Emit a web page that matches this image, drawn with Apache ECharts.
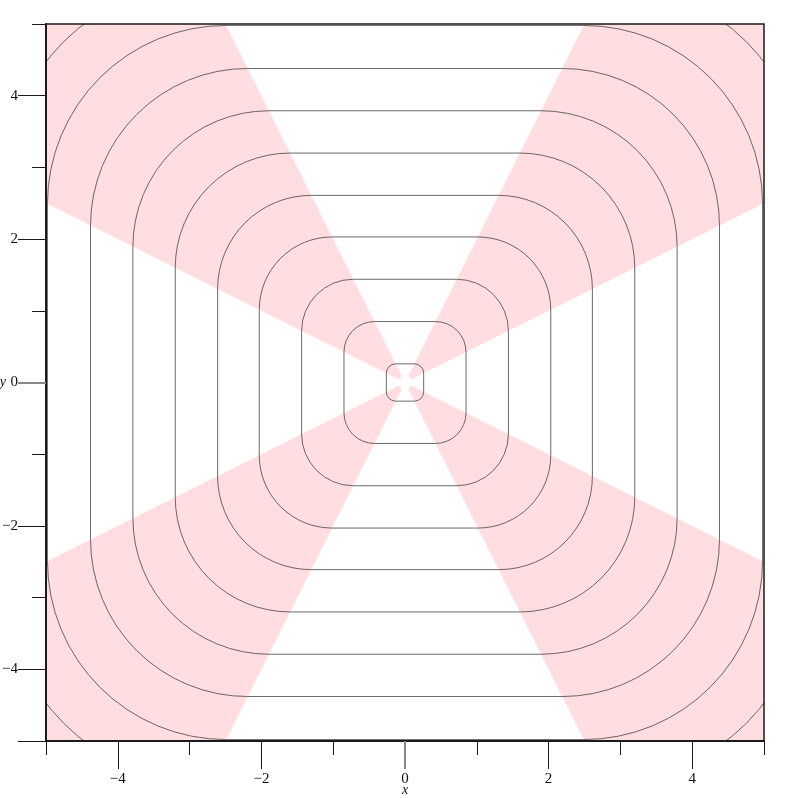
<!DOCTYPE html>
<html>
<head>
    <meta http-equiv="content-type" content="text/html;charset=utf-8">
    <script src="https://cdn.jsdelivr.net/npm/echarts@6/dist/echarts.min.js"></script>
    <style>
        html, body { margin: 0; padding: 0; background: #fff; }
        #chart { width: 791px; height: 798px; }
    </style>
</head>
<body>
<div id="chart"></div>

<script type="text/javascript">
    // contour levels (half-width of each rounded square)
    var contourLevels = [0.26, 0.85, 1.44, 2.03, 2.61, 3.20, 3.79, 4.38, 4.98, 5.57];

    // pink wedges, one polygon per quadrant
    var wedgeTopLeft = [[-0.09, 0.045], [-5, 2.5], [-5, 5], [-2.5, 5], [-0.045, 0.09]];
    var wedgeTopRight = [[0.09, 0.045], [5, 2.5], [5, 5], [2.5, 5], [0.045, 0.09]];
    var wedgeBottomLeft = [[-0.09, -0.045], [-5, -2.5], [-5, -5], [-2.5, -5], [-0.045, -0.09]];
    var wedgeBottomRight = [[0.09, -0.045], [5, -2.5], [5, -5], [2.5, -5], [0.045, -0.09]];

    // ticks and labels
    var minorTicks = [-5, -3, -1, 1, 3, 5];
    var majorTicks = [-4, -2, 2, 4];
    var yMajorTicks = [-5, -4, -2, 2, 4];
    var zeroTick = [0];
    var tickLabels = [-4, -2, 0, 2, 4];

    var font = "'Liberation Serif', 'DejaVu Serif', serif";
    var fmt = function (v) { return v < 0 ? '\u2212' + (-v) : String(v); };

    function axisSet(dir) {
        var isX = dir === 'x';
        var pos = isX ? 'bottom' : 'left';
        var base = { type: 'value', min: -5, max: 5, position: pos, z: 10, splitLine: { show: false } };
        var a = Object.assign({}, base, {
            axisLine: { show: true, onZero: false, lineStyle: { color: '#1a1a1a', width: 2 } },
            axisTick: { show: true, customValues: minorTicks, length: 14, lineStyle: { color: '#1a1a1a', width: 1 } },
            axisLabel: { show: false },
            name: dir,
            nameLocation: 'middle',
            nameGap: isX ? 42 : 40,
            nameRotate: 0,
            nameTextStyle: { fontFamily: font, fontStyle: 'italic', fontSize: 14, color: '#111' }
        });
        var b = Object.assign({}, base, {
            axisLine: { show: false, onZero: false },
            axisTick: { show: true, customValues: isX ? majorTicks : yMajorTicks, length: 28, lineStyle: { color: '#1a1a1a', width: 1 } },
            axisLabel: { show: true, customValues: tickLabels, formatter: fmt, margin: isX ? 31 : 28,
                fontFamily: font, fontSize: 15, color: '#111' }
        });
        var c = Object.assign({}, base, {
            axisLine: { show: false, onZero: false },
            axisTick: { show: true, customValues: zeroTick, length: 28, lineStyle: { color: '#888', width: 2 } },
            axisLabel: { show: false }
        });
        return [a, b, c];
    }

    var chart = echarts.init(document.getElementById('chart'));

    var wedges = [wedgeTopLeft, wedgeTopRight, wedgeBottomLeft, wedgeBottomRight];

    var option = {
        animation: false,
        backgroundColor: '#fff',
        grid: { left: 46, right: 27, top: 24, bottom: 57, show: true, borderColor: '#1a1a1a', borderWidth: 1.5, z: 10,
            outerBoundsMode: 'none', containLabel: false },
        xAxis: axisSet('x'),
        yAxis: axisSet('y'),
        series: [
            {
                type: 'custom',
                coordinateSystem: 'cartesian2d',
                clip: true,
                silent: true,
                z: 1,
                data: wedges.map(function (w, i) { return [i, 0]; }),
                renderItem: function (params, api) {
                    var w = wedges[api.value(0)];
                    var pts = w.map(function (p) { return api.coord(p); });
                    return { type: 'polygon', shape: { points: pts }, style: { fill: '#ffdde0', stroke: null } };
                }
            },
            {
                type: 'custom',
                coordinateSystem: 'cartesian2d',
                clip: true,
                silent: true,
                z: 2,
                data: contourLevels.map(function (c) { return [c, 0]; }),
                renderItem: function (params, api) {
                    var c = api.value(0);
                    var p1 = api.coord([-c, c]);
                    var p2 = api.coord([c, -c]);
                    var w = p2[0] - p1[0];
                    var h = p2[1] - p1[1];
                    return {
                        type: 'rect',
                        shape: { x: p1[0], y: p1[1], width: w, height: h, r: w / 4 },
                        style: { fill: null, stroke: 'rgba(80,80,80,0.85)', lineWidth: 1 }
                    };
                }
            }
        ]
    };
    chart.setOption(option);
</script>
</body>
</html>
